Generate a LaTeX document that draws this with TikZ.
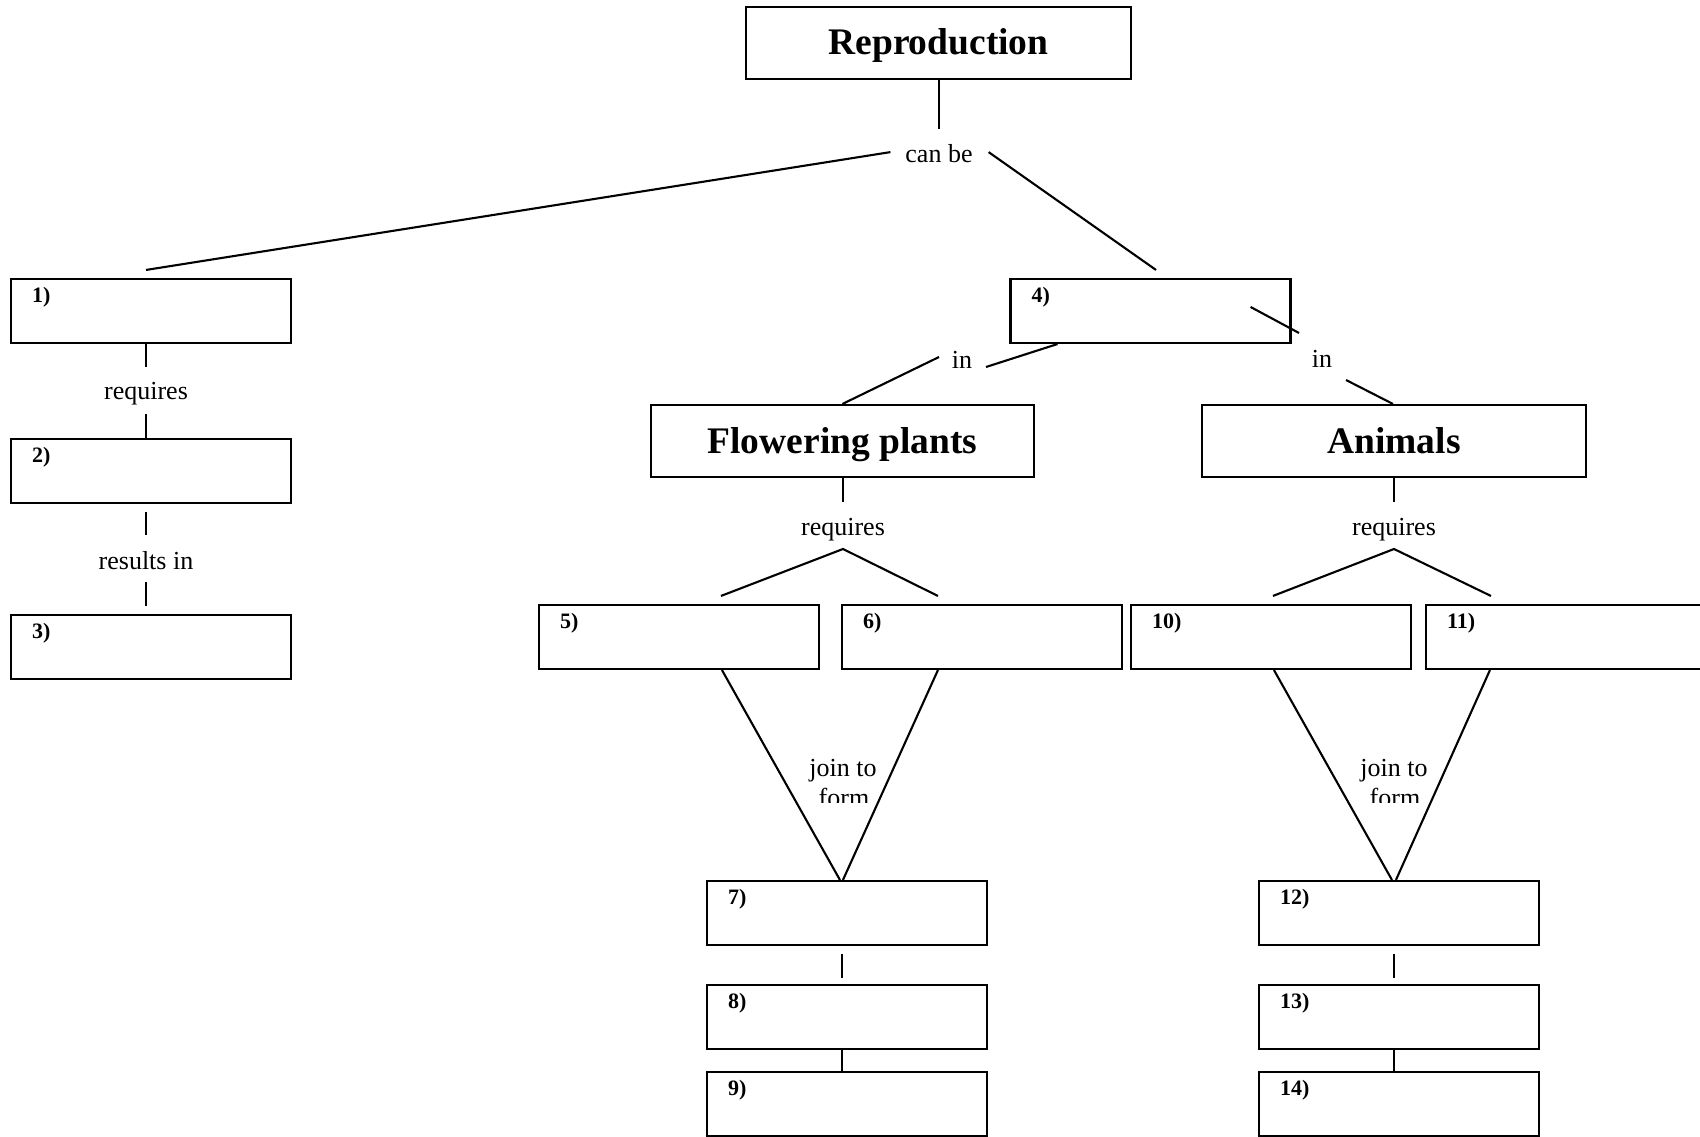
\documentclass[tikz,border=0pt]{standalone}
\usepackage{fontspec}
\setmainfont{Liberation Serif}
\usetikzlibrary{calc}
\begin{document}
\begin{tikzpicture}[x=1pt,y=-1pt,
  line width=2.1pt,
  box/.style={draw, minimum width=280pt, minimum height=64pt, inner sep=0pt},
  bigbox/.style={draw, minimum height=72pt, inner sep=0pt, font=\bfseries\fontsize{37.5}{40}\selectfont, text height=24pt, text depth=0pt},
  num/.style={anchor=base west, inner sep=0pt, font=\bfseries\fontsize{22}{24}\selectfont},
  lbl/.style={anchor=base, inner sep=0pt, font=\fontsize{26}{30}\selectfont},
]
\useasboundingbox (0,0) rectangle (1700,1137);
\clip (0,0) rectangle (1700,1137);

% ---- top
\node[bigbox, minimum width=385pt] (rep) at (938.5,43) {Reproduction};
\node[lbl] (cb) at (939,163) {can be};
\draw (rep.south -| cb) -- ++(0,49);

% ---- boxes
\node[box] (b1) at (151,311) {};
\node[box] (b2) at (151,471) {};
\node[box] (b3) at (151,647) {};
\node[box] (b4) at (1150.5,311) {};
\node[bigbox, minimum width=383pt] (fp) at (842.5,441) {Flowering plants};
\node[bigbox, minimum width=384pt] (an) at (1394,441) {Animals};
\node[box] (b5) at (679,637) {};
\node[box] (b6) at (982,637) {};
\node[box] (b10) at (1271,637) {};
\node[box] (b11) at (1566,637) {};
\node[box] (b7) at (847,913) {};
\node[box] (b8) at (847,1017) {};
\node[box] (b9) at (847,1104) {};
\node[box] (b12) at (1399,913) {};
\node[box] (b13) at (1399,1017) {};
\node[box] (b14) at (1399,1104) {};

% ---- numbers
\foreach \b/\t in {b1/1), b2/2), b3/3), b4/4), b5/5), b6/6), b7/7), b8/8), b9/9), b10/10), b11/11), b12/12), b13/13), b14/14)}
  \node[num] (n\b) at ($(\b.north west)+(21,25)$) {\t};

% ---- can be branches
\draw ($(cb.west)+(-14,-2)$) -- ($(b1.north)+(-5,-8)$);
\draw ($(cb.east)+(15,-2)$) -- ($(b4.north)+(5.5,-8)$);

% ---- left column
\node[lbl] (rq1) at (146,399) {requires};
\node[lbl] (ri) at (146,569) {results in};
\draw (b1.south -| rq1) -- ++(0,23);
\draw (b2.north -| rq1) -- ++(0,-24);
\draw ($(b2.south -| ri)+(0,8)$) -- ++(0,23);
\draw ($(b3.north -| ri)+(0,-8)$) -- ++(0,-24);

% ---- "in" links
\node[lbl] (in1) at (962,368) {in};
\node[lbl] (in2) at (1322,367) {in};
\draw ($(b4.south west)+(48,0)$) -- ($(in1.base)+(24,-1)$);
\draw ($(in1.base)+(-23,-11)$) -- ($(fp.north west)+(192.5,0)$);
\draw ($(b4.north east)+(-41,29)$) -- ($(in2.base)+(-23,-34)$);
\draw ($(in2.base)+(24,13)$) -- ($(an.north west)+(192,0)$);

% ---- requires fans
\node[lbl] (rq2) at (843,535.5) {requires};
\node[lbl] (rq3) at (1394,535.5) {requires};
\draw (fp.south -| rq2) -- ++(0,24);
\draw (an.south -| rq3) -- ++(0,24);
\coordinate (ap2) at ($(rq2.base)+(0,13.5)$);
\coordinate (ap3) at ($(rq3.base)+(0,13.5)$);
\draw ($(b5.north west)+(183,-8)$) -- (ap2) -- ($(b6.north west)+(97,-8)$);
\draw ($(b10.north west)+(143,-8)$) -- (ap3) -- ($(b11.north west)+(66,-8)$);

% ---- join to form
\draw ($(b5.south west)+(184,0)$) -- ($(b7.north west)+(134,0)$);
\draw ($(b6.south west)+(97,0)$) -- ($(b7.north west)+(137,0)$);
\draw ($(b10.south west)+(144,0)$) -- ($(b12.north west)+(134,0)$);
\draw ($(b11.south west)+(65,0)$) -- ($(b12.north west)+(138,0)$);
\node[lbl] (jt1) at (843,776) {join to};
\node[lbl] (jt2) at (1394,776) {join to};
\begin{scope}
  \clip (780,780) rectangle (910,802);
  \node[lbl] (fm1) at (844,806) {form};
\end{scope}
\begin{scope}
  \clip (1330,780) rectangle (1460,802);
  \node[lbl] (fm2) at (1395,806) {form};
\end{scope}

% ---- lower chains
\draw ($(b7.south west)+(136,8)$) -- ++(0,24);
\draw ($(b8.south west)+(136,0)$) -- ($(b9.north west)+(136,0)$);
\draw ($(b12.south west)+(136,8)$) -- ++(0,24);
\draw ($(b13.south west)+(136,0)$) -- ($(b14.north west)+(136,0)$);
\end{tikzpicture}
\end{document}
